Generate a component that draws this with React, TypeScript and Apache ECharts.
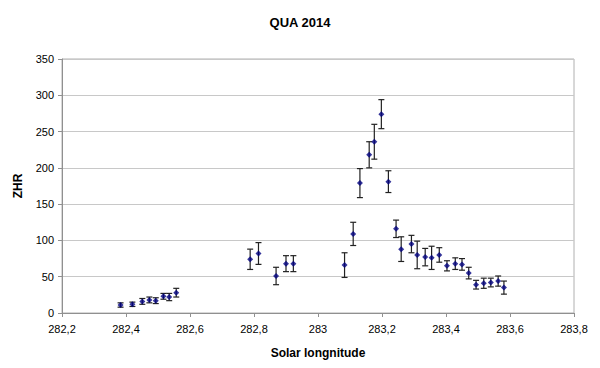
import React, { useEffect, useRef } from "react";
import * as echarts from "echarts";

const solarLongitude = [
  282.383, 282.42, 282.451, 282.473, 282.493, 282.517, 282.535, 282.557,
  282.788, 282.814, 282.869, 282.9, 282.923,
  283.083, 283.11, 283.131, 283.16, 283.176, 283.198, 283.22, 283.244,
  283.26, 283.292, 283.31, 283.335, 283.355, 283.379, 283.403, 283.429,
  283.45, 283.471, 283.494, 283.518, 283.54, 283.563, 283.581,
];
const zhr = [
  11, 12, 16, 18, 17, 23, 22, 28,
  74, 82, 51, 68, 68,
  66, 109, 179, 218, 236, 274, 181, 116,
  88, 95, 80, 77, 76, 80, 65, 68,
  67, 55, 39, 41, 42, 44, 35,
];
const zhrError = [
  3, 3, 4, 4, 4, 4, 5, 6,
  14, 15, 12, 11, 11,
  17, 16, 20, 18, 24, 20, 15, 12,
  17, 12, 19, 12, 16, 10, 7, 8,
  8, 8, 6, 7, 6, 7, 9,
];

const title = "QUA 2014";
const xName = "Solar longnitude";
const yName = "ZHR";

export default function App() {
  const ref = useRef<HTMLDivElement>(null);
  useEffect(() => {
    if (!ref.current) return;
    const chart = echarts.init(ref.current, null, { renderer: "svg" });
    const points = solarLongitude.map((x, i) => [x, zhr[i]]);
    const bars = solarLongitude.map((x, i) => [x, zhr[i], zhrError[i]]);
    const font = "'Liberation Sans', Arial, sans-serif";
    chart.setOption({
      animation: false,
      backgroundColor: "#ffffff",
      title: {
        text: title,
        left: "center",
        top: 11,
        textStyle: { fontFamily: font, fontSize: 13, fontWeight: "bold", color: "#000" },
      },
      grid: {
        left: 62,
        right: 26,
        top: 59,
        bottom: 55,
        show: true,
        borderColor: "#b0b0b0",
        borderWidth: 1,
        backgroundColor: "transparent",
      },
      xAxis: {
        type: "value",
        min: 282.2,
        max: 283.8,
        interval: 0.2,
        name: xName,
        nameLocation: "middle",
        nameGap: 34,
        nameTextStyle: { fontFamily: font, fontSize: 12, fontWeight: "bold", color: "#000" },
        axisLine: { show: true, lineStyle: { color: "#909090" } },
        axisTick: { show: true, inside: false, length: 4, lineStyle: { color: "#909090" } },
        splitLine: { show: false },
        axisLabel: {
          fontFamily: font,
          fontSize: 11,
          color: "#000",
          margin: 10,
          formatter: (v: number) => v.toFixed(1).replace(/\.0$/, "").replace(".", ","),
        },
      },
      yAxis: {
        type: "value",
        min: 0,
        max: 350,
        interval: 50,
        name: yName,
        nameLocation: "middle",
        nameGap: 38,
        nameRotate: 90,
        nameTextStyle: { fontFamily: font, fontSize: 12, fontWeight: "bold", color: "#000" },
        axisLine: { show: true, lineStyle: { color: "#909090" } },
        axisTick: { show: true, inside: false, length: 4, lineStyle: { color: "#909090" } },
        splitLine: { show: true, lineStyle: { color: "#c8c8c8", width: 1 } },
        axisLabel: { fontFamily: font, fontSize: 11, color: "#000", margin: 8 },
      },
      series: [
        {
          type: "custom",
          data: bars,
          z: 2,
          renderItem: (params: any, api: any) => {
            const x = api.value(0);
            const y = api.value(1);
            const e = api.value(2);
            const top = api.coord([x, y + e]);
            const bot = api.coord([x, y - e]);
            const hw = 3;
            const style = { stroke: "#222222", lineWidth: 1.2 };
            return {
              type: "group",
              children: [
                { type: "line", shape: { x1: top[0], y1: top[1], x2: bot[0], y2: bot[1] }, style },
                { type: "line", shape: { x1: top[0] - hw, y1: top[1], x2: top[0] + hw, y2: top[1] }, style },
                { type: "line", shape: { x1: bot[0] - hw, y1: bot[1], x2: bot[0] + hw, y2: bot[1] }, style },
              ],
            };
          },
        },
        {
          type: "scatter",
          data: points,
          symbol: "diamond",
          symbolSize: 6,
          z: 3,
          itemStyle: { color: "#000080" },
        },
      ],
    });
    return () => chart.dispose();
  }, []);
  return <div ref={ref} style={{ width: 600, height: 368, margin: -8 }} />;
}
